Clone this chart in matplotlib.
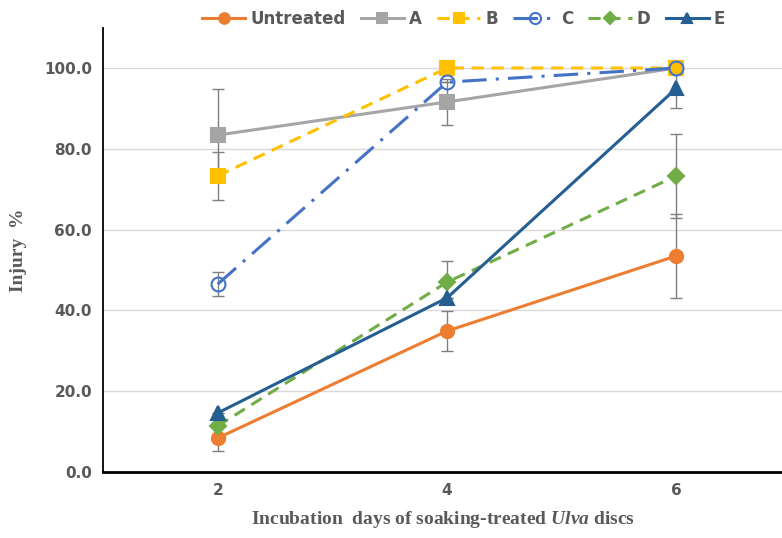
import matplotlib.pyplot as plt

plt.rcParams['mathtext.fontset'] = 'custom'
plt.rcParams['mathtext.it'] = 'Liberation Serif:italic:bold'
plt.rcParams['mathtext.bf'] = 'Liberation Serif:italic:bold'
plt.rcParams['mathtext.rm'] = 'Liberation Serif:bold'

# incubation days and injury % (mean +/- error) for each treatment
days = [2, 4, 6]
untreated = [8.4, 34.9, 53.5]
untreated_err = [3.2, 5.0, 10.4]
a_vals = [83.4, 91.6, 100.0]
a_err = [11.4, 5.7, 0.0]
b_vals = [73.3, 100.0, 100.0]
b_err = [6.0, 0.0, 0.0]
c_vals = [46.5, 96.5, 100.0]
c_err = [2.9, 0.0, 0.0]
d_vals = [11.4, 47.0, 73.3]
d_err = [0.0, 5.2, 10.4]
e_vals = [14.6, 43.1, 95.0]
e_err = [0.0, 0.0, 5.0]

fig = plt.figure(figsize=(7.82, 5.38), dpi=100)
ax = fig.add_axes([0.1317, 0.1227, 0.8683, 0.826])

series = [
    ('Untreated', untreated, untreated_err, '#ED7D31', '-', 'o', '#ED7D31', 9.5),
    ('A', a_vals, a_err, '#A5A5A5', '-', 's', '#A5A5A5', 9.5),
    ('B', b_vals, b_err, '#FFC000', (0, (4, 2.5)), 's', '#FFC000', 9.5),
    ('C', c_vals, c_err, '#4472C4', (0, (8, 3, 1, 3)), 'o', 'none', 10),
    ('D', d_vals, d_err, '#70AD47', (0, (4, 2.5)), 'D', '#70AD47', 8),
    ('E', e_vals, e_err, '#255E91', '-', '^', '#255E91', 9.5),
]

for name, vals, err, col, ls, mk, fc, ms in series:
    ax.errorbar(days, vals, yerr=err, fmt='none', ecolor='#7F7F7F',
                elinewidth=1, capsize=4, capthick=1, zorder=2)
    ax.plot(days, vals, color=col, linestyle=ls, linewidth=2.2, marker=mk,
            markersize=ms, markerfacecolor=fc, markeredgecolor=col,
            markeredgewidth=1.5, label=name, zorder=3)

ax.set_xlim(1.0, 6.92)
ax.set_ylim(0, 110)
ax.set_xticks(days)
ax.set_yticks([0, 20, 40, 60, 80, 100])
ax.set_yticklabels(['%.1f' % v for v in [0, 20, 40, 60, 80, 100]])
ax.yaxis.grid(True, color='#D9D9D9', linewidth=1)
ax.set_axisbelow(True)
ax.tick_params(length=0, labelsize=11, labelcolor='#595959', pad=8)
for lab in ax.get_xticklabels() + ax.get_yticklabels():
    lab.set_fontweight('bold')
ax.spines['top'].set_visible(False)
ax.spines['right'].set_visible(False)
ax.spines['left'].set_linewidth(1.3)
ax.spines['bottom'].set_linewidth(2)

ax.set_ylabel('Injury  %', fontsize=14, fontweight='bold', color='#595959',
              family='Liberation Serif', labelpad=12)
ax.set_xlabel('Incubation  days of soaking-treated $\\mathit{Ulva}$ discs',
              fontsize=14, fontweight='bold', color='#595959',
              family='Liberation Serif', labelpad=8)

leg = fig.legend(loc='upper center', bbox_to_anchor=(0.593, 1.01), ncol=6,
                 frameon=False, fontsize=12, handlelength=2.6, markerscale=0.8,
                 columnspacing=0.9, handletextpad=0.3)
for t in leg.get_texts():
    t.set_color('#595959')
    t.set_fontweight('bold')

fig.savefig('out.png', dpi=100)
